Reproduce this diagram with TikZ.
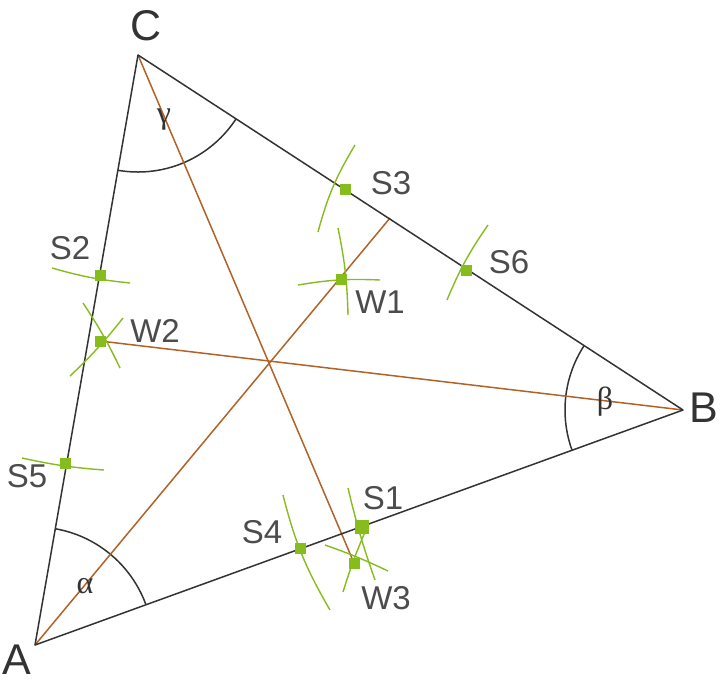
\documentclass[tikz,border=0pt]{standalone}
\usepackage{fontspec}
\setmainfont{Liberation Sans}
\newfontfamily\grk{Liberation Serif}
\begin{document}
\begin{tikzpicture}[x=1pt,y=-1pt]
\definecolor{g1}{RGB}{134,188,30}
\definecolor{br}{RGB}{178,98,38}
\tikzset{
  tri/.style={draw=black!80,line width=1.5pt},
  grn/.style={draw=g1,line width=1.4pt},
  sq/.style={fill=g1,minimum size=11pt,inner sep=0pt},
  bsq/.style={fill=g1,minimum size=14pt,inner sep=0pt},
  bis/.style={draw=br,line width=1.5pt},
  lbl/.style={text=black!70,font=\fontsize{33}{33}\selectfont},
  vl/.style={text=black!80,font=\fontsize{43}{43}\selectfont},
  gk/.style={text=black!80,font=\grk\fontsize{32}{32}\selectfont}}
\useasboundingbox (0,0) rectangle (727,689);
\coordinate (A) at (35,645);
\coordinate (B) at (683,410);
\coordinate (C) at (138,55);
\coordinate (D) at (390,218);
\coordinate (W2) at (100,341);
\coordinate (W3) at (354,563);
\begin{scope}
\clip (A)--(B)--(C)--cycle;
\draw[tri] (A) circle (118);
\draw[tri] (B) circle (118);
\draw[tri] (C) circle (117);
\end{scope}
\draw[bis] (A)--(D);
\draw[bis] (B)--(W2);
\draw[bis] (C)--(W3);
\draw[tri,line join=round] (A)--(B)--(C)--cycle;
% green arcs
\draw[grn] (52,268) to[bend right=5] (130,283);
\draw[grn] (83,303) to[bend left=4] (120,368);
\draw[grn] (123,318) to[bend left=4] (70,376);
\draw[grn] (22,458) to[bend right=4] (104,470);
\draw[grn] (318,232) to[bend left=8] (355,145);
\draw[grn] (298,285) to[bend left=6] (380,280);
\draw[grn] (338,228) to[bend left=5] (348,315);
\draw[grn] (447,300) to[bend left=6] (488,225);
\draw[grn] (283,495) to[bend right=8] (330,610);
\draw[grn] (348,488) to[bend right=3] (375,580);
\draw[grn] (365,532) to[bend right=3] (343,592);
\draw[grn] (325,545) to[bend left=3] (388,571);
% marks
\node[sq] (S2) at (100,275) {};
\node[sq] (nW2) at (W2) {};
\node[sq] (S5) at (65,463) {};
\node[sq] (S3) at (345,189) {};
\node[sq] (W1) at (341,279) {};
\node[sq] (S6) at (466,270) {};
\node[sq] (S4) at (300,548) {};
\node[bsq] (S1) at (362,527) {};
\node[sq] (nW3) at (W3) {};
% labels
\node[vl] (lA) at (17,660) {A};
\node[vl] (lB) at (704,408) {B};
\node[vl] (lC) at (146,26) {C};
\node[gk] (la) at (85,586) {α};
\node[gk] (lb) at (605,402) {β};
\node[gk] (lc) at (164,120) {γ};
\node[lbl] (tS1) at (383,498) {S1};
\node[lbl] (tS2) at (70,248) {S2};
\node[lbl] (tS3) at (391,183) {S3};
\node[lbl] (tS4) at (262,532) {S4};
\node[lbl] (tS5) at (27,476) {S5};
\node[lbl] (tS6) at (509,262) {S6};
\node[lbl] (tW1) at (380,302) {W1};
\node[lbl] (tW2) at (155,331) {W2};
\node[lbl] (tW3) at (386,598) {W3};
\end{tikzpicture}
\end{document}
